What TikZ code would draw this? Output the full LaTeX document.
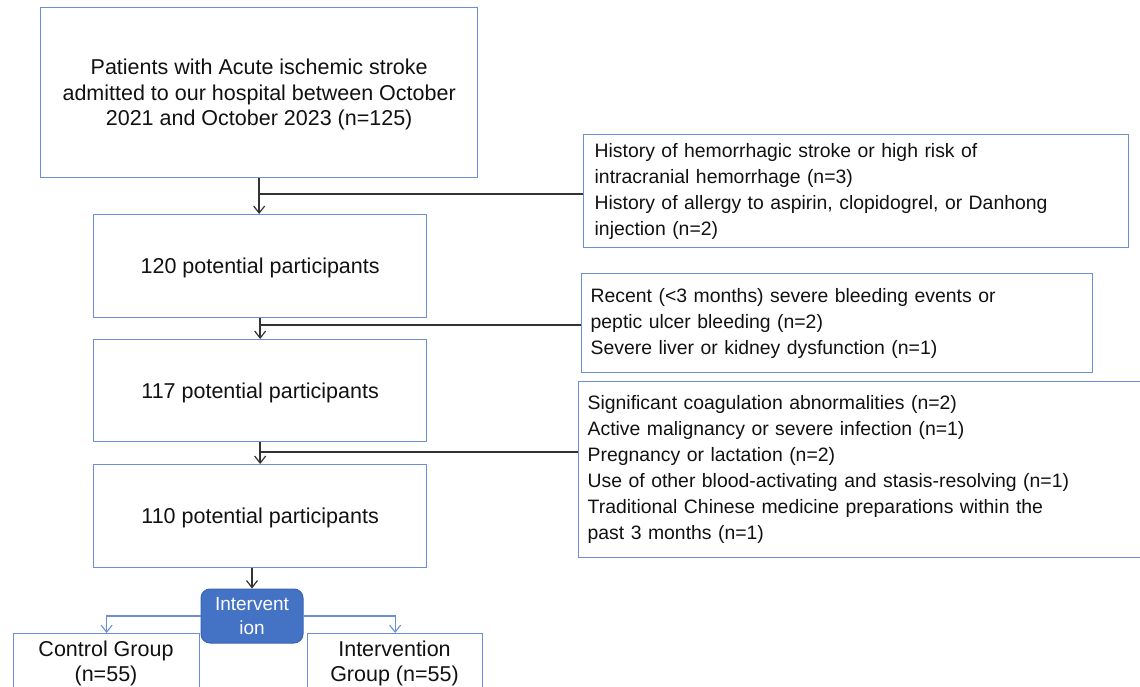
\documentclass[tikz,border=0pt]{standalone}
\usepackage{fontspec}
\setmainfont{Liberation Sans}
\usetikzlibrary{arrows.meta}
\definecolor{boxblue}{HTML}{6A8FD8}
\definecolor{ivblue}{HTML}{4472C4}
\definecolor{ivedge}{HTML}{3A65B4}
\definecolor{linegray}{HTML}{333333}
\definecolor{txt}{HTML}{111111}
\begin{document}
\begin{tikzpicture}[x=1pt,y=-1pt,
  mainbox/.style={draw=boxblue,line width=1.3pt,rectangle,align=center,text depth=0pt,
    font=\fontsize{21.5}{25.5}\selectfont,text=txt,inner sep=0pt,anchor=north west},
  exclbox/.style={draw=boxblue,line width=1.3pt,rectangle,align=left,
    font=\fontsize{19.4}{26}\selectfont,text=txt,inner ysep=0pt,anchor=north west},
  grpbox/.style={draw=boxblue,line width=1.3pt,rectangle,inner sep=0pt,anchor=north west},
  grptext/.style={align=center,font=\fontsize{21.5}{25}\selectfont,text=txt,inner sep=0pt},
  ivbox/.style={draw=ivedge,fill=ivblue,line width=1pt,rounded corners=9pt,align=center,text depth=0pt,
    font=\fontsize{19}{24}\selectfont,text=white,inner sep=0pt,minimum width=102pt,minimum height=54pt},
  conn/.style={draw=linegray,line width=1.4pt},
  connarrow/.style={conn,-{Straight Barb[length=7pt,width=11pt,line width=1.2pt]}},
  bluearrow/.style={draw=boxblue,line width=1.3pt,-{Straight Barb[length=7pt,width=11pt,line width=1.1pt]}}
]
\useasboundingbox (0,0) rectangle (1140,687);

\node[mainbox,minimum width=437pt,minimum height=170pt] (b1) at (40,7)
  {Patients with Acute ischemic stroke\\admitted to our hospital between October\\2021 and October 2023 (n=125)};
\node[mainbox,minimum width=333pt,minimum height=103pt] (b2) at (93,214) {120 potential participants};
\node[mainbox,minimum width=333pt,minimum height=102pt] (b3) at (93,339) {117 potential participants};
\node[mainbox,minimum width=333pt,minimum height=103pt] (b4) at (93,464) {110 potential participants};

\node[exclbox,inner xsep=11pt,text width=523pt,minimum height=113pt] (e1) at (583,134)
  {History of hemorrhagic stroke or high risk of\\intracranial hemorrhage (n=3)\\History of allergy to aspirin, clopidogrel, or Danhong\\injection (n=2)};
\node[exclbox,inner xsep=9pt,text width=493pt,minimum height=99pt] (e2) at (581,273)
  {Recent (<3 months) severe bleeding events or\\peptic ulcer bleeding (n=2)\\Severe liver or kidney dysfunction (n=1)};
\node[exclbox,inner xsep=9pt,text width=554pt,minimum height=176pt] (e3) at (578,381)
  {Significant coagulation abnormalities (n=2)\\Active malignancy or severe infection (n=1)\\Pregnancy or lactation (n=2)\\Use of other blood-activating and stasis-resolving (n=1)\\Traditional Chinese medicine preparations within the\\past 3 months (n=1)};

\node[ivbox] (iv) at (252,616) {Intervent\\ion};

\node[grpbox,minimum width=186pt,minimum height=80pt] (cg) at (13,633) {};
\node[grptext] (cgt) at (106,663.5) {Control Group\\(n=55)};
\node[grpbox,minimum width=175pt,minimum height=80pt] (ig) at (307,633) {};
\node[grptext] (igt) at (394.5,663.5) {Intervention\\Group (n=55)};

\coordinate (j1) at (258.5,194);
\coordinate (j2) at (259.5,325);
\coordinate (j3) at (259.5,452);

\draw[connarrow] (b1.south) -- (b1.south |- b2.north);
\draw[conn] (e1.west |- j1) -- (j1);
\draw[connarrow] (b2.south) -- (b3.north);
\draw[conn] (e2.west |- j2) -- (j2);
\draw[connarrow] (b3.south) -- (b4.north);
\draw[conn] (e3.west |- j3) -- (j3);
\draw[connarrow] (iv.north |- b4.south) -- (iv.north);

\draw[bluearrow] (iv.west) -| (cg.north);
\draw[bluearrow] (iv.east) -| (ig.north);
\end{tikzpicture}
\end{document}
